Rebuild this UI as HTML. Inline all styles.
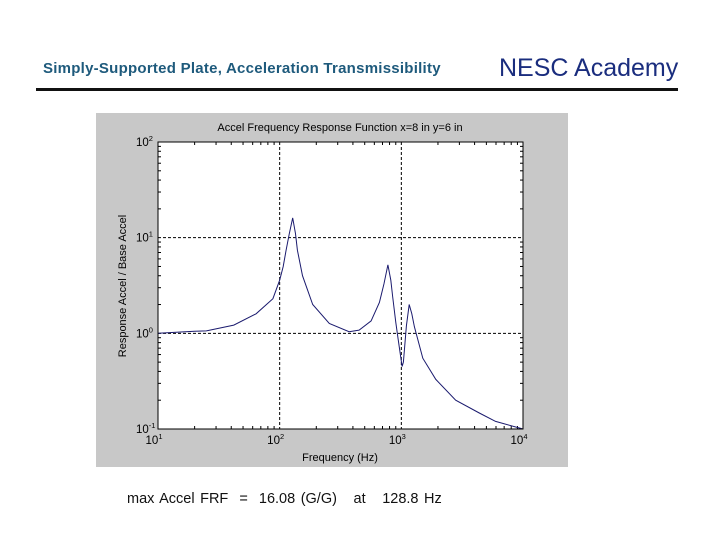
<!DOCTYPE html>
<html><head><meta charset="utf-8"><style>
body{margin:0;width:720px;height:540px;background:#fff;position:relative;overflow:hidden;font-family:"Liberation Sans",sans-serif}
.abs{position:absolute;white-space:nowrap}
</style></head><body>
<div class="abs" style="left:43px;top:60px;font-size:15px;font-weight:bold;color:#1e5a7c;letter-spacing:0.25px">Simply-Supported Plate, Acceleration Transmissibility</div>
<div class="abs" style="left:499px;top:54px;font-size:25px;color:#1a2d7e">NESC Academy</div>
<div class="abs" style="left:36px;top:88px;width:642px;height:3px;background:#111"></div>
<svg class="abs" style="left:0;top:0" width="720" height="540">
<rect x="96" y="113" width="472" height="354" fill="#c8c8c8"/>
<rect x="158" y="142" width="365" height="287" fill="#fff"/>
<g id="grid"></g><g id="ticks"></g>
<path id="curve" fill="none" stroke="#1a1a6e" stroke-width="1"/>
<rect x="158" y="142" width="365" height="287" fill="none" stroke="#000" stroke-width="1"/>
<text x="340" y="131" font-size="11" text-anchor="middle">Accel Frequency Response Function  x=8 in  y=6 in</text>
<text x="340" y="461" font-size="11" text-anchor="middle">Frequency (Hz)</text>
<text transform="translate(126,286) rotate(-90)" font-size="11" text-anchor="middle">Response Accel / Base Accel</text>
<g id="labels" font-size="11.5"></g>
</svg>
<div class="abs" style="left:127px;top:491px;font-size:14.5px;color:#111;word-spacing:1.5px">max Accel FRF &nbsp;= &nbsp;16.08 (G/G) &nbsp;&nbsp;at &nbsp;&nbsp;128.8 Hz</div>
<script>
const freqs=[10,20,25,42,64,88,100,107,113,120,128,135,140,154,187,256,372,450,564,660,720,776,820,850,900,935,1015,1040,1100,1160,1220,1280,1500,1920,2800,4370,5950,10000];
const accel=[1.0,1.05,1.06,1.22,1.6,2.3,3.6,5.0,7.4,11,16.1,11,7.4,4.0,2.0,1.27,1.04,1.08,1.35,2.1,3.3,5.2,3.6,2.4,1.3,0.92,0.45,0.5,1.2,2.0,1.6,1.17,0.55,0.33,0.2,0.147,0.12,0.10];
const xDecades=[1,2,3,4];
const yDecades=[-1,0,1,2];
const X0=158,X1=523,Y0=429,Y1=142;
const xs=f=>X0+(Math.log10(f)-1)/3*(X1-X0);
const ys=v=>Y0-(Math.log10(v)+1)/3*(Y0-Y1);
const NS="http://www.w3.org/2000/svg";
function mk(t,a,p){const e=document.createElementNS(NS,t);for(const k in a)e.setAttribute(k,a[k]);p.appendChild(e);return e;}
const grid=document.getElementById('grid'),ticks=document.getElementById('ticks'),labels=document.getElementById('labels');
xDecades.forEach(d=>{const x=xs(Math.pow(10,d));
 if(d>1&&d<4){const l=mk('line',{x1:x,x2:x,y1:Y1,y2:Y0,stroke:'#000','stroke-dasharray':'3,2'},grid);
 
 }
 const t=mk('text',{x:x-4,y:Y0+15,'text-anchor':'middle'},labels);t.textContent='10';
 
 
 const s=mk('tspan',{dy:-5,'font-size':7.5},t);s.textContent=d;
 if(d<4)for(let m=2;m<10;m++){const xm=xs(m*Math.pow(10,d));
  mk('line',{x1:xm,x2:xm,y1:Y0,y2:Y0-3,stroke:'#000'},ticks);mk('line',{x1:xm,x2:xm,y1:Y1,y2:Y1+3,stroke:'#000'},ticks);}
});
yDecades.forEach(d=>{const y=ys(Math.pow(10,d));
 if(d>-1&&d<2){const l=mk('line',{x1:X0,x2:X1,y1:y,y2:y,stroke:'#000','stroke-dasharray':'3,2'},grid);
 
 }
 const t=mk('text',{x:X0-22,y:y+4},labels);t.textContent='10';
 
 
 const s=mk('tspan',{dy:-5,'font-size':7.5},t);s.textContent=d;
 if(d<2)for(let m=2;m<10;m++){const ym=ys(m*Math.pow(10,d));
  mk('line',{x1:X0,x2:X0+3,y1:ym,y2:ym,stroke:'#000'},ticks);mk('line',{x1:X1,x2:X1-3,y1:ym,y2:ym,stroke:'#000'},ticks);}
});
document.getElementById('curve').setAttribute('d',freqs.map((f,i)=>(i?'L':'M')+xs(f).toFixed(1)+','+ys(accel[i]).toFixed(1)).join(''));
</script>
</body></html>
